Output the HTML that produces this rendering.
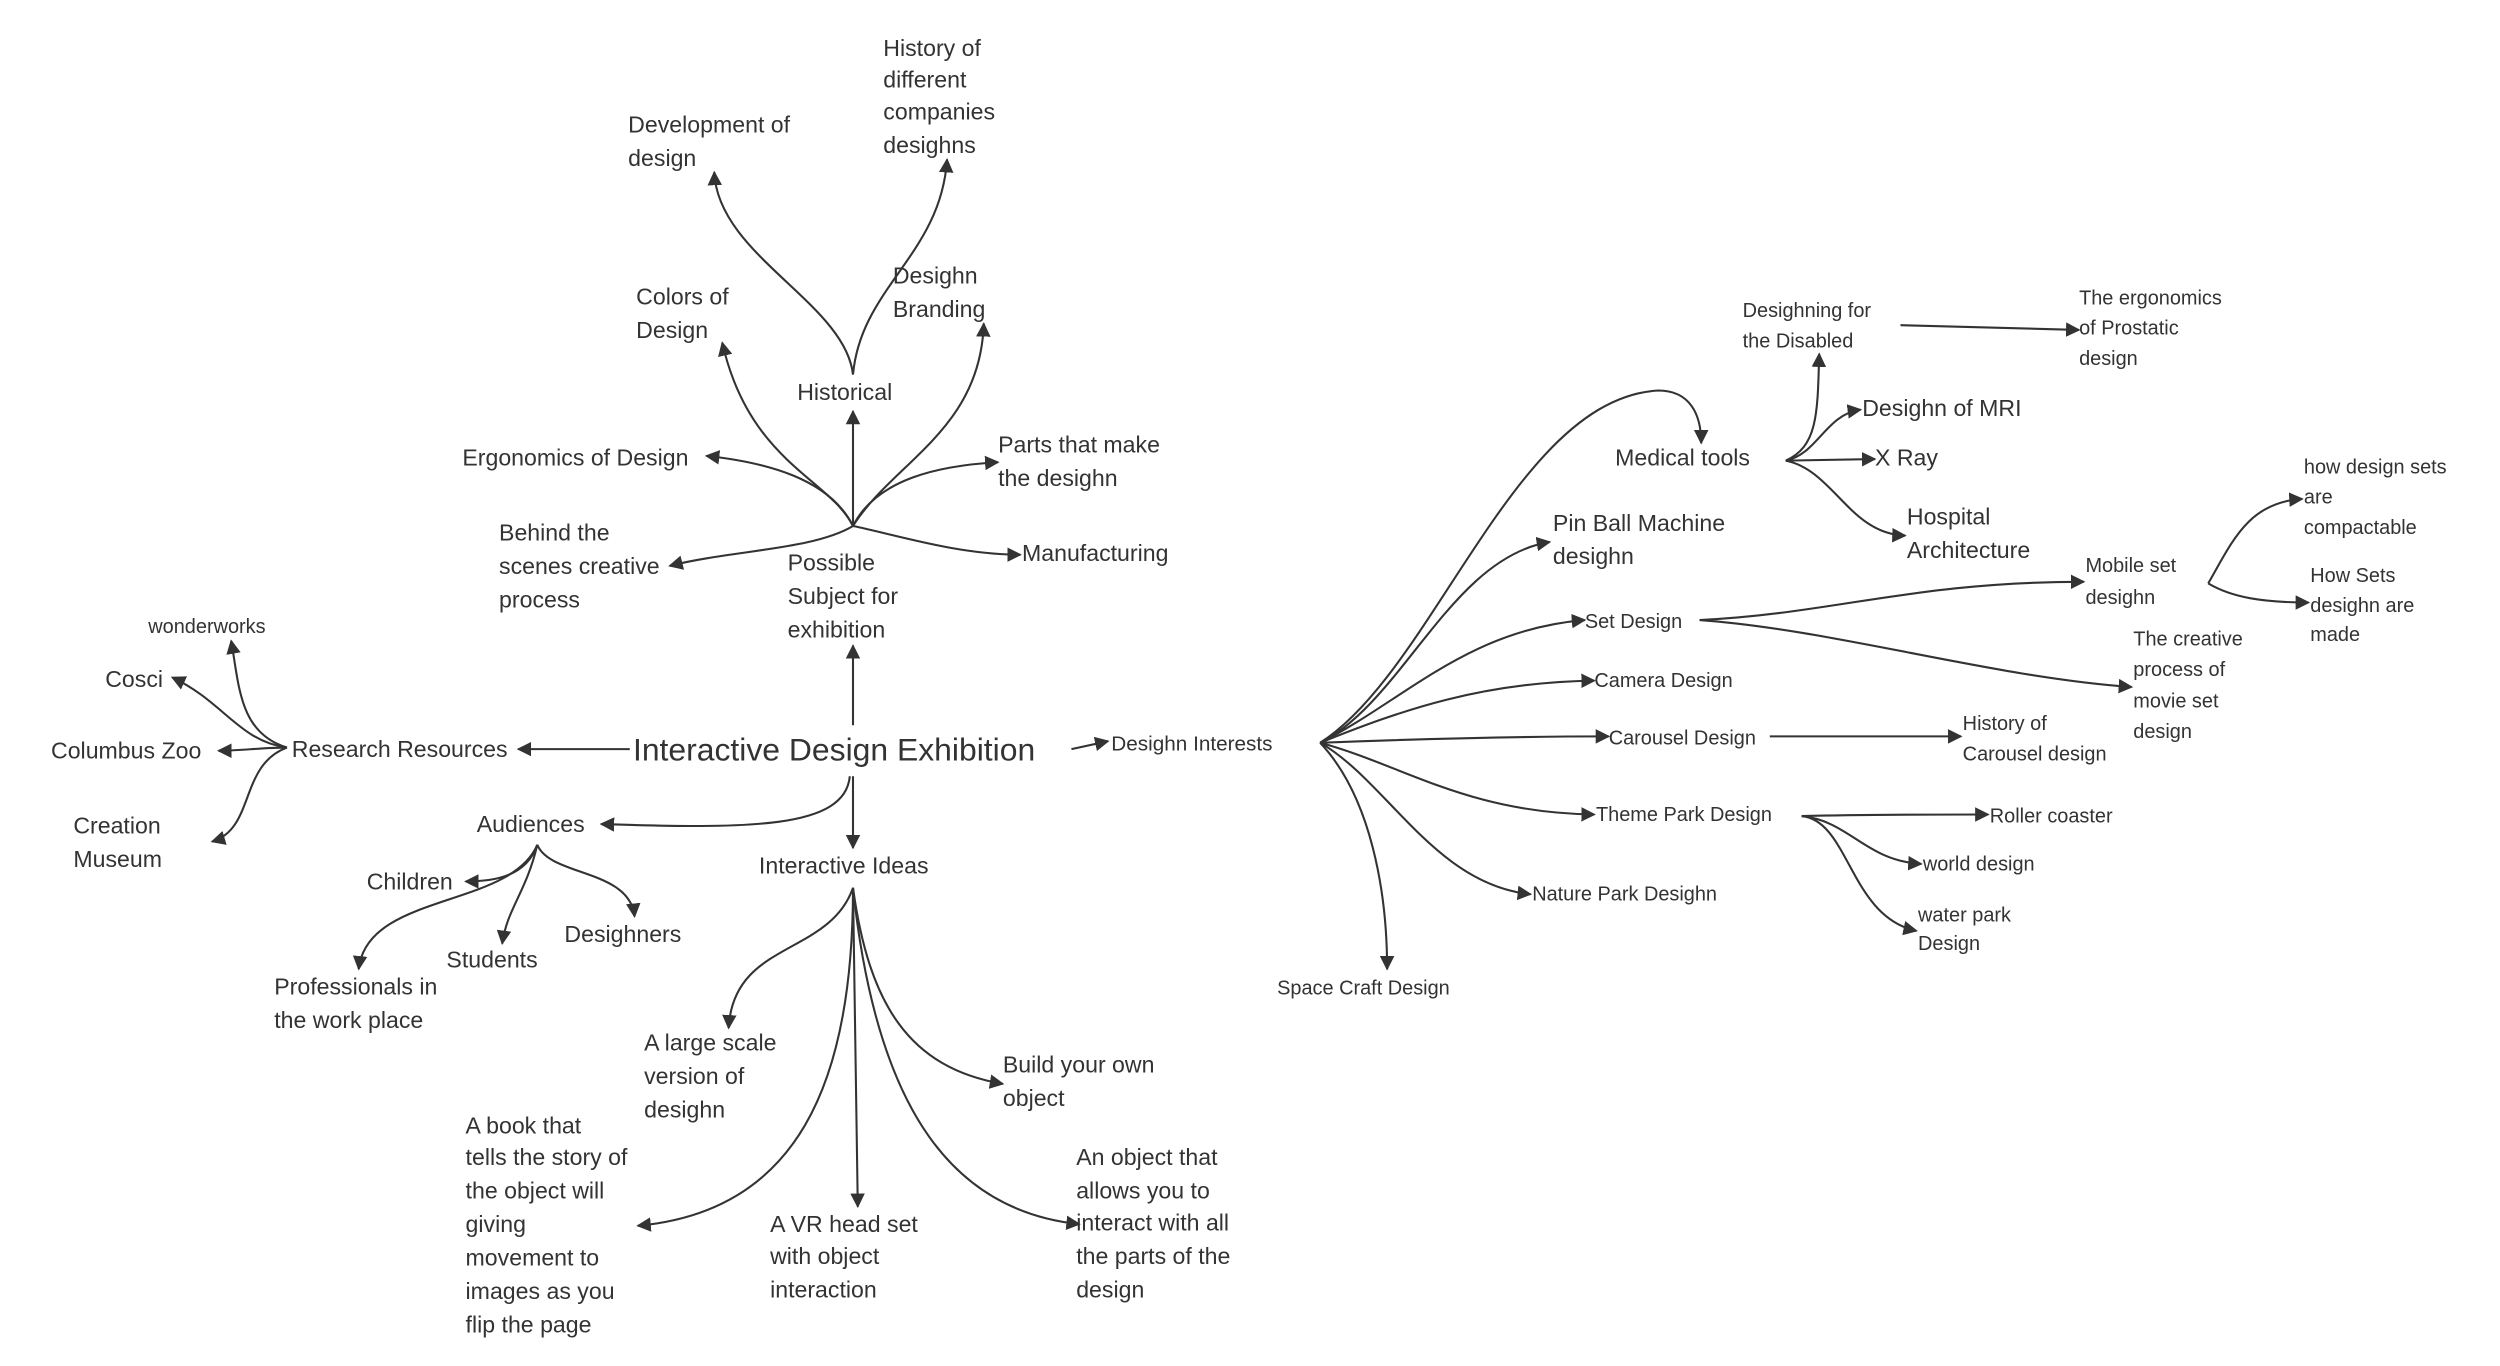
<!DOCTYPE html>
<html><head><meta charset="utf-8"><style>
html,body{margin:0;padding:0;background:#fff;}
svg{display:block;}
text{font-family:"Liberation Sans",sans-serif;fill:#333;font-size:14.5px;}
.s{font-size:12.5px;}
path{fill:none;stroke:#333;stroke-width:1.3;}
</style></head><body>
<svg width="2500" height="1366" viewBox="0 0 1568 857" preserveAspectRatio="none" xmlns="http://www.w3.org/2000/svg">
<defs><marker id="a" viewBox="0 0 10 10" refX="9" refY="5" markerWidth="7" markerHeight="7" orient="auto-start-reverse"><path d="M0,0 L10,5 L0,10 Z" style="fill:#333;stroke:none"/></marker></defs>
<g marker-end="url(#a)">
<!-- center -->
<path d="M395,470 L325,470"/>
<path d="M535,455 L535,405"/>
<path d="M533,487 C530,520 470,520 377,517"/>
<path d="M535,487 L535,532"/>
<path d="M672,470 L695,465"/>
<!-- research -->
<path d="M180,469 C150,465 140,440 108,425"/>
<path d="M180,469 C150,460 150,430 145,402"/>
<path d="M180,469 C165,469 150,471 137,471"/>
<path d="M180,469 C150,480 160,520 133,528"/>
<!-- possible subject -->
<path d="M535,330 C510,345 460,345 420,355"/>
<path d="M535,330 C520,300 480,290 443,286"/>
<path d="M535,330 L535,258"/>
<path d="M535,330 C520,300 470,290 453,215"/>
<path d="M535,330 C560,290 615,270 617,203"/>
<path d="M535,330 C550,300 590,292 626,290"/>
<path d="M535,330 C560,335 600,348 640,348"/>
<path d="M535,235 C530,190 450,160 448,108"/>
<path d="M535,235 C540,180 590,160 594,100"/>
<!-- audiences -->
<path d="M337,530 C330,550 310,553 292,553"/>
<path d="M337,530 C330,560 318,570 315,592"/>
<path d="M337,530 C345,550 395,545 398,575"/>
<path d="M337,530 C320,570 230,560 225,608"/>
<!-- interactive ideas -->
<path d="M535,557 C520,600 460,590 457,645"/>
<path d="M535,557 C535,680 500,760 400,769"/>
<path d="M535,557 L538,757"/>
<path d="M535,557 C545,630 570,670 629,680"/>
<path d="M535,557 C550,700 600,760 677,768"/>
<!-- interests -->
<path d="M828,466 C900,420 950,250 1040,245 C1060,245 1067,260 1067,278"/>
<path d="M828,466 C880,440 910,350 972,340"/>
<path d="M828,466 C880,440 920,395 994,389"/>
<path d="M828,466 C880,445 930,428 1000,427"/>
<path d="M828,466 C880,464 940,462 1009,462"/>
<path d="M828,466 C880,480 920,510 1000,511"/>
<path d="M828,466 C870,490 900,555 960,561"/>
<path d="M828,466 C860,500 870,560 870,608"/>
<!-- medical -->
<path d="M1120,289 C1140,280 1140,260 1141,222"/>
<path d="M1120,289 C1140,285 1145,260 1167,257"/>
<path d="M1120,289 L1176,288"/>
<path d="M1120,289 C1150,295 1160,335 1195,336"/>
<path d="M1192,204 L1304,207"/>
<!-- set -->
<path d="M1066,389 C1150,385 1200,365 1307,365"/>
<path d="M1066,389 C1150,395 1250,425 1337,431"/>
<path d="M1385,366 C1400,340 1410,315 1444,313"/>
<path d="M1385,366 C1400,375 1420,378 1448,378"/>
<path d="M1110,462 L1230,462"/>
<!-- theme park -->
<path d="M1130,512 C1170,511 1210,511 1247,511"/>
<path d="M1130,512 C1160,515 1170,540 1205,542"/>
<path d="M1130,512 C1160,515 1160,575 1202,584"/>
</g>
<text x="397" y="477" style="font-size:20px">Interactive Design Exhibition</text>
<text x="183" y="475">Research Resources</text>
<text x="93" y="397" class="s">wonderworks</text>
<text x="66" y="431">Cosci</text>
<text x="32" y="476">Columbus Zoo</text>
<text x="46" y="523">Creation</text><text x="46" y="544">Museum</text>
<text x="494" y="358">Possible</text><text x="494" y="379">Subject for</text><text x="494" y="400">exhibition</text>
<text x="313" y="339">Behind the</text><text x="313" y="360">scenes creative</text><text x="313" y="381">process</text>
<text x="290" y="292">Ergonomics of Design</text>
<text x="500" y="251">Historical</text>
<text x="399" y="191">Colors of</text><text x="399" y="212">Design</text>
<text x="560" y="178">Desighn</text><text x="560" y="199">Branding</text>
<text x="626" y="284">Parts that make</text><text x="626" y="305">the desighn</text>
<text x="641" y="352">Manufacturing</text>
<text x="394" y="83">Development of</text><text x="394" y="104">design</text>
<text x="554" y="35">History of</text><text x="554" y="55">different</text><text x="554" y="75">companies</text><text x="554" y="96">desighns</text>
<text x="299" y="522">Audiences</text>
<text x="230" y="558">Children</text>
<text x="280" y="607">Students</text>
<text x="354" y="591">Desighners</text>
<text x="172" y="624">Professionals in</text><text x="172" y="645">the work place</text>
<text x="476" y="548">Interactive Ideas</text>
<text x="404" y="659">A large scale</text><text x="404" y="680">version of</text><text x="404" y="701">desighn</text>
<text x="292" y="711">A book that</text><text x="292" y="731">tells the story of</text><text x="292" y="752">the object will</text><text x="292" y="773">giving</text><text x="292" y="794">movement to</text><text x="292" y="815">images as you</text><text x="292" y="836">flip the page</text>
<text x="483" y="773">A VR head set</text><text x="483" y="793">with object</text><text x="483" y="814">interaction</text>
<text x="629" y="673">Build your own</text><text x="629" y="694">object</text>
<text x="675" y="731">An object that</text><text x="675" y="752">allows you to</text><text x="675" y="772">interact with all</text><text x="675" y="793">the parts of the</text><text x="675" y="814">design</text>
<text x="697" y="471" class="s" style="font-size:13px">Desighn Interests</text>
<text x="1013" y="292">Medical tools</text>
<text x="974" y="333">Pin Ball Machine</text><text x="974" y="354">desighn</text>
<text x="994" y="394" class="s">Set Design</text>
<text x="1000" y="431" class="s">Camera Design</text>
<text x="1009" y="467" class="s">Carousel Design</text>
<text x="1001" y="515" class="s">Theme Park Design</text>
<text x="961" y="565" class="s">Nature Park Desighn</text>
<text x="801" y="624" class="s">Space Craft Design</text>
<text x="1093" y="199" class="s">Desighning for</text><text x="1093" y="218" class="s">the Disabled</text>
<text x="1304" y="191" class="s">The ergonomics</text><text x="1304" y="210" class="s">of Prostatic</text><text x="1304" y="229" class="s">design</text>
<text x="1168" y="261">Desighn of MRI</text>
<text x="1176" y="292">X Ray</text>
<text x="1196" y="329">Hospital</text><text x="1196" y="350">Architecture</text>
<text x="1308" y="359" class="s">Mobile set</text><text x="1308" y="379" class="s">desighn</text>
<text x="1338" y="405" class="s">The creative</text><text x="1338" y="424" class="s">process of</text><text x="1338" y="444" class="s">movie set</text><text x="1338" y="463" class="s">design</text>
<text x="1445" y="297" class="s">how design sets</text><text x="1445" y="316" class="s">are</text><text x="1445" y="335" class="s">compactable</text>
<text x="1449" y="365" class="s">How Sets</text><text x="1449" y="384" class="s">desighn are</text><text x="1449" y="402" class="s">made</text>
<text x="1231" y="458" class="s">History of</text><text x="1231" y="477" class="s">Carousel design</text>
<text x="1248" y="516" class="s">Roller coaster</text>
<text x="1206" y="546" class="s">world design</text>
<text x="1203" y="578" class="s">water park</text><text x="1203" y="596" class="s">Design</text>
</svg>
</body></html>
